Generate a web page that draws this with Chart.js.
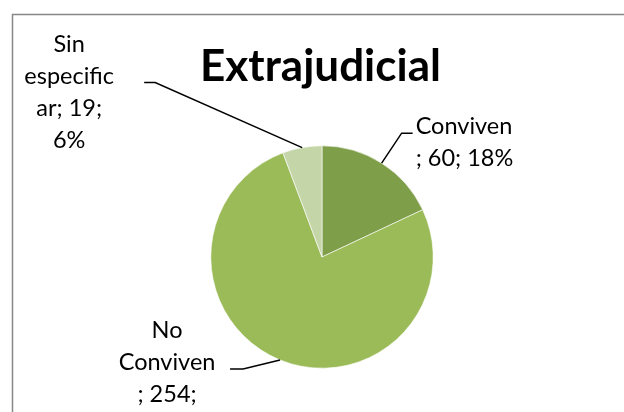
<!DOCTYPE html>
<html>
<head>
<meta charset="utf-8">
<script src="https://cdn.jsdelivr.net/npm/chart.js@4.4.0/dist/chart.umd.min.js"></script>
<style>
html,body{margin:0;padding:0;background:#fff;}
#wrap{width:624px;height:412px;position:relative;}
</style>
</head>
<body>
<div id="wrap"><canvas id="c" width="624" height="412"></canvas></div>
<script>
const titleText = "Extrajudicial";
const categories = ["Conviven", "No Conviven", "Sin especificar"];
const values = [60, 254, 19];
const percents = ["18%", "76%", "6%"];
const labelLines = [
  ["Conviven", "; 60; 18%"],
  ["No", "Conviven", "; 254;", "76%"],
  ["Sin", "especific", "ar; 19;", "6%"]
];
const colors = ["#7F9E4A", "#9BBB59", "#C4D6A8"];

// label placement styles: elbow offset from slice edge, text anchor offset from elbow
const labelStyle = [
  {elbow:[20,-30], tail:11, align:"left", textDx:3, textDy:-7},
  {elbow:[-37,9], tail:-13, align:"center", textDx:-63, textDy:-39},
  {elbow:[-147,-65], tail:-11, align:"center", textDx:-75, textDy:-38}
];
const FONT = "Lato, 'Open Sans', sans-serif";

const decor = {
  id: 'decor',
  beforeDraw(chart){
    const ctx = chart.ctx;
    ctx.save();
    ctx.fillStyle = '#fff';
    ctx.fillRect(0,0,chart.width,chart.height);
    ctx.strokeStyle = '#878787';
    ctx.lineWidth = 1.5;
    ctx.strokeRect(12.5,14.5,800,600);
    ctx.restore();
  },
  afterDraw(chart){
    const ctx = chart.ctx;
    const meta = chart.getDatasetMeta(0);
    ctx.save();
    // title
    ctx.fillStyle = '#000';
    ctx.font = "bold 44px " + FONT;
    ctx.textAlign = 'center';
    ctx.textBaseline = 'alphabetic';
    ctx.fillText(titleText, 320.5, 81);
    ctx.font = "23.5px " + FONT;
    meta.data.forEach((arc, i) => {
      const p = arc.getProps(['x','y','startAngle','endAngle','outerRadius'], true);
      const mid = (p.startAngle + p.endAngle)/2;
      const ex = p.x + Math.cos(mid)*p.outerRadius;
      const ey = p.y + Math.sin(mid)*p.outerRadius;
      const s = labelStyle[i];
      const bx = ex + s.elbow[0], by = ey + s.elbow[1];
      const tx = bx + s.tail;
      ctx.strokeStyle = '#000';
      ctx.lineWidth = 1.5;
      ctx.beginPath();
      ctx.moveTo(ex, ey);
      ctx.lineTo(bx, by);
      ctx.lineTo(tx, by);
      ctx.stroke();
      ctx.textAlign = s.align;
      ctx.textBaseline = 'middle';
      const x0 = tx + s.textDx;
      const y0 = by + s.textDy;
      labelLines[i].forEach((ln, k) => {
        ctx.fillText(ln, x0, y0 + k*32);
      });
    });
    ctx.restore();
  }
};

new Chart(document.getElementById('c'), {
  type: 'pie',
  data: {
    labels: categories,
    datasets: [{
      data: values,
      backgroundColor: colors,
      borderColor: '#ffffff',
      borderWidth: 0.6
    }]
  },
  options: {
    responsive: false,
    animation: false,
    events: [],
    layout: { padding: { left: 100, right: 80, top: 145.5, bottom: 43.5 } },
    plugins: {
      legend: { display: false },
      title: { display: false },
      tooltip: { enabled: false }
    }
  },
  plugins: [decor]
});
</script>
</body>
</html>
